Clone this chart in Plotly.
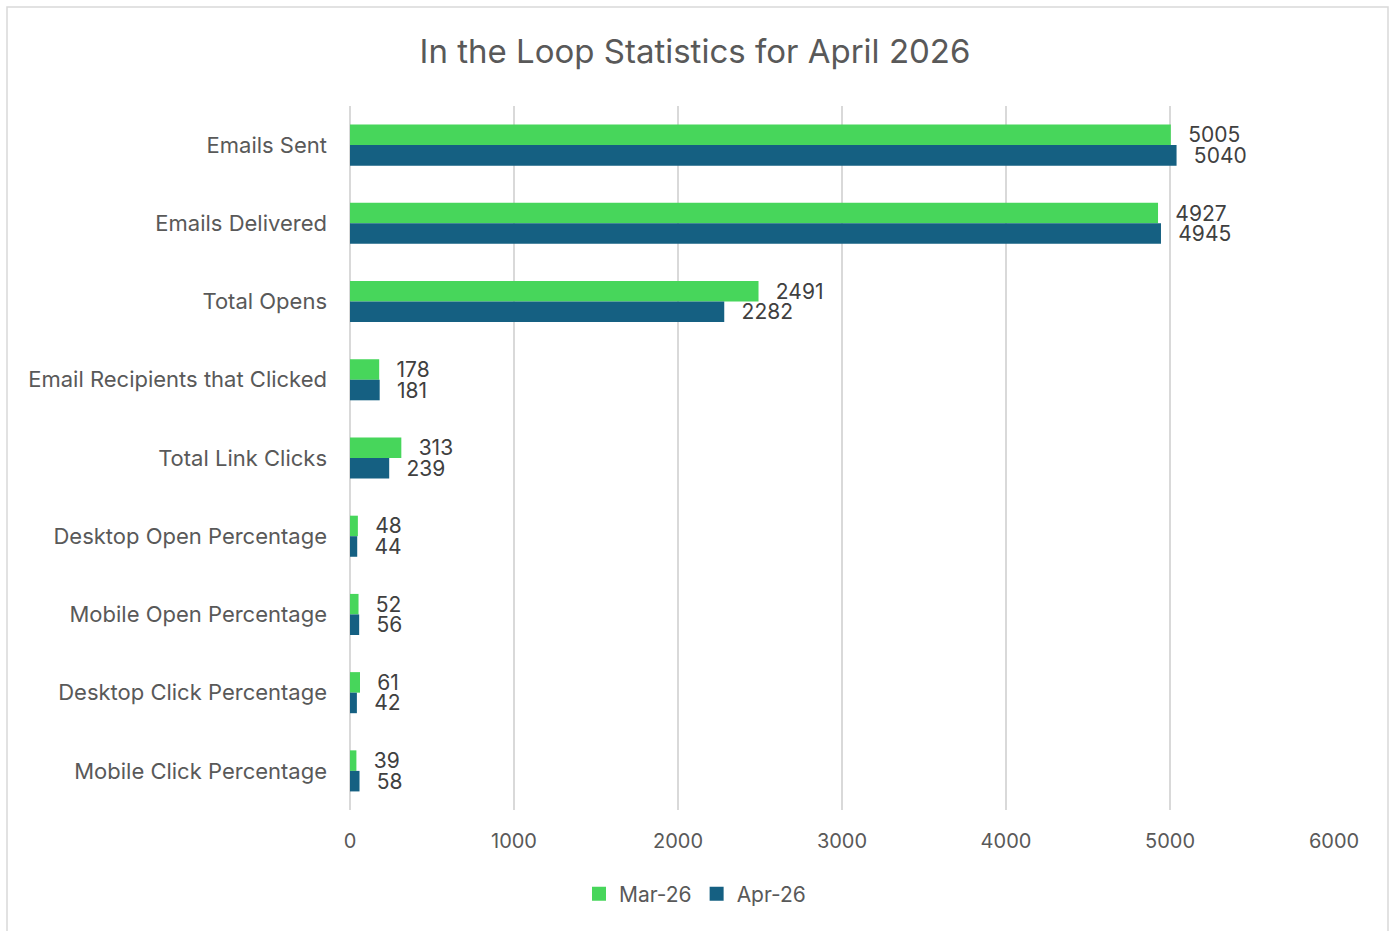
import plotly.graph_objects as go

# Newsletter statistics, March vs April 2026
categories = [
    "Emails Sent",
    "Emails Delivered",
    "Total Opens",
    "Email Recipients that Clicked",
    "Total Link Clicks",
    "Desktop Open Percentage",
    "Mobile Open Percentage",
    "Desktop Click Percentage",
    "Mobile Click Percentage",
]
mar_26 = [5005, 4927, 2491, 178, 313, 48, 52, 61, 39]
apr_26 = [5040, 4945, 2282, 181, 239, 44, 56, 42, 58]
x_ticks = [0, 1000, 2000, 3000, 4000, 5000, 6000]

GREEN = "#47D65B"
BLUE = "#156082"
TEXT = "#595959"
GRID = "#D9D9D9"
FONT = "Inter"

W, H = 1390, 931
ML, MR, MT, MB = 350, 56, 106, 121

fig = go.Figure()
for name, vals, col in [("Mar-26", mar_26, GREEN), ("Apr-26", apr_26, BLUE)]:
    fig.add_trace(go.Bar(
        y=categories,
        x=vals,
        name=name,
        orientation="h",
        marker=dict(color=col, line=dict(width=0)),
        text=vals,
        texttemplate="\u2002\u2009%{x}",
        textposition="outside",
        textfont=dict(family=FONT, size=21, color="#404040"),
        constraintext="none",
        cliponaxis=False,
        showlegend=False,
    ))

# Legend keys drawn as larger square swatches
for name, col in [("Mar-26", GREEN), ("Apr-26", BLUE)]:
    fig.add_trace(go.Scatter(
        x=[None], y=[None],
        mode="markers",
        name=name,
        marker=dict(symbol="square", size=14, color=col),
        showlegend=True,
    ))

fig.update_layout(
    width=W,
    height=H,
    margin=dict(l=ML, r=MR, t=MT, b=MB),
    paper_bgcolor="white",
    plot_bgcolor="white",
    barmode="group",
    bargap=0.475,
    bargroupgap=0,
    font=dict(family=FONT, color=TEXT),
    title=dict(
        text="In the Loop Statistics for April 2026",
        x=0.5,
        xref="container",
        xanchor="center",
        y=1 - 51 / H,
        yref="container",
        yanchor="middle",
        font=dict(family=FONT, size=33, color=TEXT),
    ),
    legend=dict(
        orientation="h",
        x=0.5,
        xref="container",
        xanchor="center",
        y=1 - 894 / H,
        yref="container",
        yanchor="middle",
        font=dict(family=FONT, size=21, color=TEXT),
        itemwidth=30,
        traceorder="normal",
    ),
    showlegend=True,
)

fig.update_xaxes(
    range=[0, 6000],
    tickvals=x_ticks,
    ticktext=[str(v) for v in x_ticks],
    showgrid=True,
    gridcolor=GRID,
    gridwidth=1.5,
    zeroline=True,
    zerolinecolor=GRID,
    zerolinewidth=1.5,
    showline=False,
    ticks="",
    tickfont=dict(family=FONT, size=20, color=TEXT),
    ticklabelstandoff=17,
)
fig.update_yaxes(
    autorange="reversed",
    showgrid=False,
    showline=False,
    ticks="",
    tickfont=dict(family=FONT, size=22, color=TEXT),
    ticklabelstandoff=22,
)

# Chart frame (bottom edge runs past the page)
pw = W - ML - MR
ph = H - MT - MB
fig.add_shape(
    type="rect",
    xref="paper", yref="paper",
    x0=(7 - ML) / pw, x1=(1388 - ML) / pw,
    y0=-(MB + 6) / ph, y1=(H - MB - 7) / ph,
    line=dict(color=GRID, width=1.5),
    fillcolor="rgba(0,0,0,0)",
    layer="below",
)

fig.write_html("out.html")
